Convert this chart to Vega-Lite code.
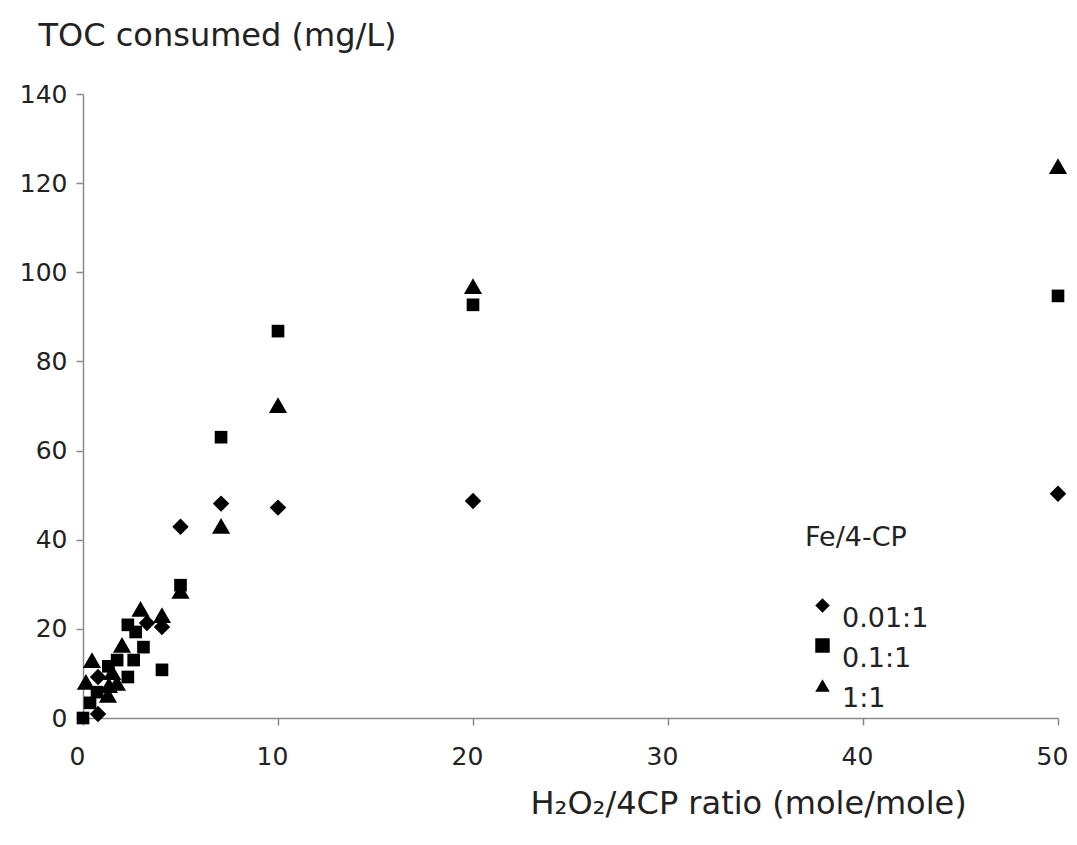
{
  "$schema": "https://vega.github.io/schema/vega-lite/v6.json",
  "width": 975,
  "height": 624,
  "autosize": {"type": "none"},
  "padding": {"left": 83, "top": 94, "right": 19, "bottom": 127},
  "background": "white",
  "config": {
    "view": {"stroke": null},
    "font": "DejaVu Sans",
    "axis": {
      "grid": false,
      "domainColor": "#8a8a8a",
      "domainWidth": 1.5,
      "tickColor": "#8a8a8a",
      "tickWidth": 1.5,
      "labelFont": "DejaVu Sans",
      "labelFontSize": 25,
      "labelColor": "#222222",
      "titleFont": "DejaVu Sans",
      "titleFontSize": 32,
      "titleFontWeight": "normal",
      "titleColor": "#222222"
    },
    "legend": {
      "orient": "none",
      "padding": 0,
      "titleFont": "DejaVu Sans",
      "titleFontSize": 27,
      "titleFontWeight": "normal",
      "titleColor": "#222222",
      "titleBaseline": "top",
      "titlePadding": 40,
      "labelFont": "DejaVu Sans",
      "labelFontSize": 27,
      "labelColor": "#222222",
      "labelBaseline": "top",
      "labelOffset": 6,
      "symbolOffset": 4,
      "symbolSize": 210,
      "symbolFillColor": "black",
      "symbolStrokeWidth": 0,
      "rowPadding": -2
    }
  },
  "data": {
    "values": [
      {"x": 50, "y": 50.3, "ratio": "0.01:1"},
      {"x": 20, "y": 48.7, "ratio": "0.01:1"},
      {"x": 10, "y": 47.2, "ratio": "0.01:1"},
      {"x": 7.08, "y": 48.1, "ratio": "0.01:1"},
      {"x": 5, "y": 42.9, "ratio": "0.01:1"},
      {"x": 4.05, "y": 20.4, "ratio": "0.01:1"},
      {"x": 3.28, "y": 21.3, "ratio": "0.01:1"},
      {"x": 0.77, "y": 9.2, "ratio": "0.01:1"},
      {"x": 0.77, "y": 0.9, "ratio": "0.01:1"},
      {"x": 50, "y": 94.7, "ratio": "0.1:1"},
      {"x": 20, "y": 92.7, "ratio": "0.1:1"},
      {"x": 10, "y": 86.8, "ratio": "0.1:1"},
      {"x": 7.08, "y": 63.0, "ratio": "0.1:1"},
      {"x": 5, "y": 29.8, "ratio": "0.1:1"},
      {"x": 2.3, "y": 20.9, "ratio": "0.1:1"},
      {"x": 2.7, "y": 19.3, "ratio": "0.1:1"},
      {"x": 3.1, "y": 15.9, "ratio": "0.1:1"},
      {"x": 2.6, "y": 13.0, "ratio": "0.1:1"},
      {"x": 1.75, "y": 13.0, "ratio": "0.1:1"},
      {"x": 1.3, "y": 11.6, "ratio": "0.1:1"},
      {"x": 2.3, "y": 9.2, "ratio": "0.1:1"},
      {"x": 4.05, "y": 10.8, "ratio": "0.1:1"},
      {"x": 0.72, "y": 5.8, "ratio": "0.1:1"},
      {"x": 0.36, "y": 3.4, "ratio": "0.1:1"},
      {"x": 0, "y": 0, "ratio": "0.1:1"},
      {"x": 50, "y": 123.8, "ratio": "1:1"},
      {"x": 20, "y": 96.9, "ratio": "1:1"},
      {"x": 10, "y": 70.2, "ratio": "1:1"},
      {"x": 7.08, "y": 43.1, "ratio": "1:1"},
      {"x": 5, "y": 28.5, "ratio": "1:1"},
      {"x": 2.95, "y": 24.5, "ratio": "1:1"},
      {"x": 4.05, "y": 23.1, "ratio": "1:1"},
      {"x": 2.0, "y": 16.4, "ratio": "1:1"},
      {"x": 0.46, "y": 13.0, "ratio": "1:1"},
      {"x": 0.15, "y": 8.1, "ratio": "1:1"},
      {"x": 1.33, "y": 7.4, "ratio": "1:1"},
      {"x": 1.74, "y": 7.9, "ratio": "1:1"},
      {"x": 1.28, "y": 5.2, "ratio": "1:1"},
      {"x": 1.5, "y": 10.3, "ratio": "1:1"}
    ]
  },
  "encoding": {
    "x": {
      "field": "x", "type": "quantitative",
      "scale": {"domain": [0, 50], "nice": false, "zero": true},
      "axis": {
        "orient": "bottom",
        "values": [0, 10, 20, 30, 40, 50],
        "tickSize": 7,
        "labelPadding": 19,
        "labelOffset": -6,
        "labelFlush": false,
        "labelOverlap": false,
        "title": "H₂O₂/4CP ratio (mole/mole)",
        "titleAlign": "left",
        "titleAnchor": "start",
        "titleBaseline": "alphabetic",
        "titleX": 447,
        "titleY": 95
      }
    },
    "y": {
      "field": "y", "type": "quantitative",
      "scale": {"domain": [0, 140], "nice": false, "zero": true},
      "axis": {
        "orient": "left",
        "values": [0, 20, 40, 60, 80, 100, 120, 140],
        "tickSize": 7,
        "labelPadding": 9,
        "labelFlush": false,
        "labelOverlap": false,
        "title": "TOC consumed (mg/L)",
        "titleAngle": 0,
        "titleAlign": "left",
        "titleAnchor": "start",
        "titleBaseline": "alphabetic",
        "titleX": -45,
        "titleY": -49
      }
    },
    "shape": {
      "field": "ratio", "type": "nominal",
      "scale": {"domain": ["0.01:1", "0.1:1", "1:1"], "range": ["diamond", "square", "triangle-up"]},
      "legend": {"title": "Fe/4-CP", "orient": "none", "legendX": 722, "legendY": 431}
    }
  },
  "layer": [
    {
      "transform": [{"filter": "datum.ratio === '0.01:1'"}],
      "mark": {"type": "point", "filled": true, "color": "black", "opacity": 1, "size": 270}
    },
    {
      "transform": [{"filter": "datum.ratio === '0.1:1'"}],
      "mark": {"type": "point", "filled": true, "color": "black", "opacity": 1, "size": 160}
    },
    {
      "transform": [{"filter": "datum.ratio === '1:1'"}],
      "mark": {"type": "point", "filled": true, "color": "black", "opacity": 1, "size": 330}
    }
  ]
}
